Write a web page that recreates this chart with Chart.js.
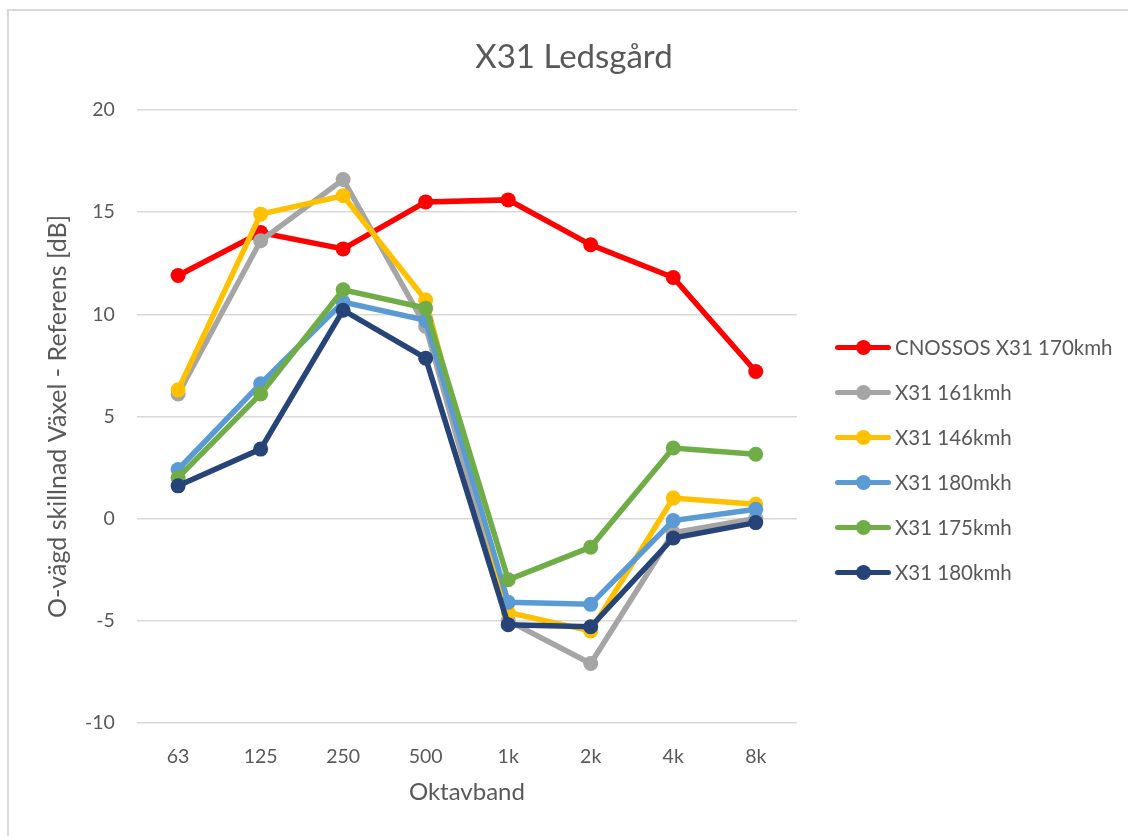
<!DOCTYPE html>
<html>
<head>
<meta charset="utf-8">
<script src="https://cdn.jsdelivr.net/npm/chart.js@4.4.1/dist/chart.umd.min.js"></script>
<style>
	body { margin: 0; background: #fff; font-family: Lato, "Liberation Sans", sans-serif; }
	#wrap { position: relative; width: 1128px; height: 836px; overflow: hidden; }
	#frame { position: absolute; left: 7px; top: 9px; width: 1140px; height: 850px; border: 2px solid #d9d9d9; }
	#mycanvas { position: absolute; left: 0; top: 0; }
	#title { position: absolute; left: 0; width: 1148px; top: 35px; text-align: center; font-size: 33px; line-height: 40px; color: #595959; }
	#legend { position: absolute; left: 835px; top: 332px; }
	.item { height: 45px; display: flex; align-items: flex-start; font-size: 20.5px; color: #595959; }
	.swatch { position: relative; width: 56px; height: 30px; margin-right: 4px; }
	.swatch .ln { position: absolute; left: 0; right: 0; top: 13px; height: 5px; border-radius: 3px; }
	.swatch .dt { position: absolute; left: 21px; top: 8px; width: 15px; height: 15px; border-radius: 50%; }
	.item span.lbl { line-height: 30px; }
</style>
</head>
<body>
<div id="wrap">
	<div id="frame"></div>
	<canvas id="mycanvas" width="1128" height="836"></canvas>
	<div id="title">X31 Ledsgård</div>
	<div id="legend"></div>
</div>
<script>
var bands = ["63", "125", "250", "500", "1k", "2k", "4k", "8k"];
var names = ["CNOSSOS X31 170kmh", "X31 161kmh", "X31 146kmh", "X31 180mkh", "X31 175kmh", "X31 180kmh"];
var colors = ["#ff0000", "#a5a5a5", "#ffc000", "#5b9bd5", "#70ad47", "#264478"];

var cnossos170 = [11.9, 14.0, 13.2, 15.5, 15.6, 13.4, 11.8, 7.2];
var x31_161 = [6.1, 13.6, 16.6, 9.4, -5.0, -7.1, -0.7, 0.0];
var x31_146 = [6.3, 14.9, 15.8, 10.7, -4.6, -5.5, 1.0, 0.7];
var x31_180mkh = [2.4, 6.6, 10.6, 9.7, -4.1, -4.2, -0.1, 0.45];
var x31_175 = [2.0, 6.1, 11.2, 10.3, -3.0, -1.4, 3.45, 3.15];
var x31_180 = [1.6, 3.4, 10.2, 7.85, -5.2, -5.3, -0.95, -0.2];

var series = [cnossos170, x31_161, x31_146, x31_180mkh, x31_175, x31_180];

var datasets = [];
for (var i in series) {
	datasets.push({
		label: names[i],
		data: series[i],
		borderColor: colors[i],
		backgroundColor: colors[i],
		pointBackgroundColor: colors[i],
		pointBorderColor: colors[i],
		borderWidth: 5.5,
		pointRadius: 7.5,
		pointBorderWidth: 0,
		lineTension: 0,
		fill: false,
		order: series.length - i
	});
}

// html legend, line + dot like excel
var legend = document.getElementById("legend");
for (var j in names) {
	var row = document.createElement("div");
	row.className = "item";
	row.innerHTML = '<div class="swatch"><div class="ln" style="background:' + colors[j] + '"></div>' +
		'<div class="dt" style="background:' + colors[j] + '"></div></div><span class="lbl">' + names[j] + '</span>';
	legend.appendChild(row);
}

var ctx = document.getElementById("mycanvas");
var font = "Lato, 'Liberation Sans', sans-serif";

new Chart(ctx, {
	type: "line",
	data: { labels: bands, datasets: datasets },
	options: {
		responsive: false,
		animation: false,
		layout: { padding: { left: 43, right: 331, top: 110, bottom: 29 } },
		plugins: {
			legend: { display: false },
			tooltip: { enabled: false }
		},
		scales: {
			x: {
				offset: true,
				grid: { display: false, drawTicks: false },
				border: { display: false },
				ticks: { color: "#595959", font: { family: font, size: 19.5 }, padding: 22 },
				title: { display: true, text: "Oktavband", color: "#595959", font: { family: font, size: 24 }, padding: { top: -12, bottom: 0 } }
			},
			y: {
				min: -10,
				max: 20,
				ticks: { stepSize: 5, color: "#595959", font: { family: font, size: 19.5 }, padding: 22 },
				grid: { color: "#d9d9d9", lineWidth: 1.5, drawTicks: false },
				border: { display: false },
				title: { display: true, text: "O-vägd skillnad Växel - Referens [dB]", color: "#595959", font: { family: font, size: 25 }, padding: { top: 0, bottom: -10 } }
			}
		}
	}
});
</script>
</body>
</html>
